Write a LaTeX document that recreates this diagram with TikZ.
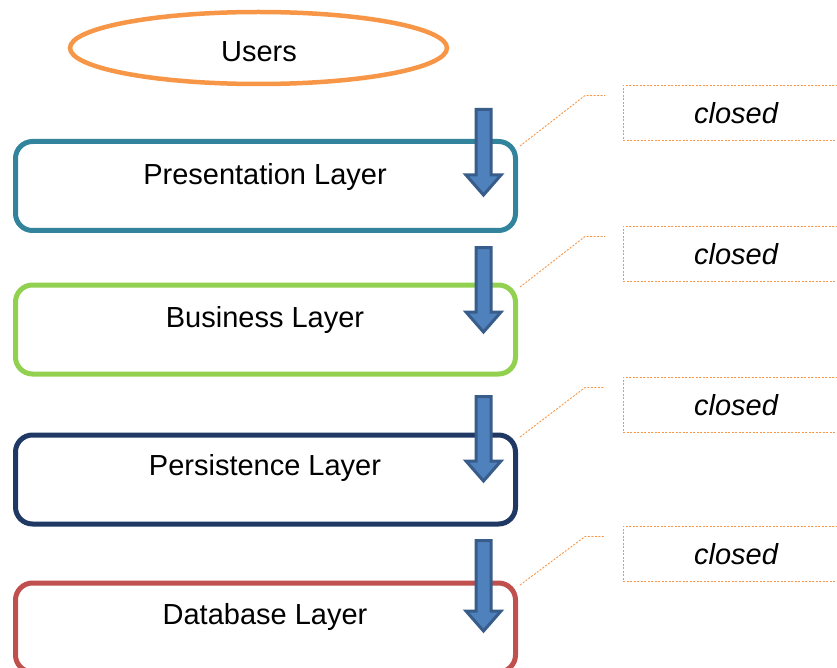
\documentclass[tikz,border=0pt]{standalone}
\usepackage{fontspec}
\setmainfont{Liberation Sans}
\usetikzlibrary{shapes.geometric}
\definecolor{usersorange}{HTML}{F79646}
\definecolor{presteal}{HTML}{31849B}
\definecolor{busgreen}{HTML}{92D050}
\definecolor{persnavy}{HTML}{1F3864}
\definecolor{dbred}{HTML}{C0504D}
\definecolor{arrowfill}{HTML}{4F81BD}
\definecolor{arrowedge}{HTML}{385D8A}
\tikzset{
  layerbox/.style={draw, rounded corners=17pt, line width=5pt, minimum width=500pt,
    minimum height=89pt, inner sep=0pt, fill=white},
  layertext/.style={font=\fontsize{29}{34}\selectfont, inner sep=0pt},
  notebox/.style={draw=usersorange, dashed, dash pattern=on 2pt off 1.5pt, line width=0.9pt,
    minimum width=260pt, minimum height=55pt, anchor=north west, inner sep=0pt},
  notetext/.style={font=\fontsize{29}{34}\selectfont\itshape, inner sep=0pt},
  noteline/.style={draw=usersorange, dash pattern=on 2pt off 1.5pt, line width=0.9pt},
  flowarrow/.style={fill=arrowfill, draw=arrowedge, line width=3pt, line join=miter},
}
\begin{document}
\begin{tikzpicture}[x=1pt,y=-1pt]
  \useasboundingbox (0,0) rectangle (837,668);
  \clip (0,0) rectangle (837,668);

  % users
  \node[ellipse, draw=usersorange, line width=4.5pt, minimum width=377pt, minimum height=72pt,
        inner sep=0pt] (users) at (258.5,48) {};
  \node[layertext] (userstxt) at (259,52) {Users};

  % layers
  \node[layerbox, draw=presteal] (pres) at (265.5,186) {};
  \node[layertext] (prestxt) at (265,177) {Presentation Layer};
  \node[layerbox, draw=busgreen] (bus) at (265.5,329.5) {};
  \node[layertext] (bustxt) at (265,320) {Business Layer};
  \node[layerbox, draw=persnavy] (pers) at (265.5,479.5) {};
  \node[layertext] (perstxt) at (265,468) {Persistence Layer};
  \node[layerbox, draw=dbred] (db) at (265.5,627.5) {};
  \node[layertext] (dbtxt) at (265,617) {Database Layer};

  % downward block arrows
  \foreach \t/\b in {109.5/195, 247.5/332, 396.5/481, 540.5/631} {
    \draw[flowarrow] (476,\t) -- (491,\t) -- (491,\b-20) -- (501,\b-20) -- (483.5,\b)
      -- (466,\b-20) -- (476,\b-20) -- cycle;
  }

  % "closed" notes
  \foreach \n/\y/\ly in {1/85/146, 2/226/287, 3/377/437, 4/526/585} {
    \node[notebox] (note\n) at (623,\y) {};
    \node[notetext] (notetxt\n) at (736,\y+28) {closed};
    \coordinate (lead\n) at (605,\y+10.5);
    \draw[noteline] (520,\ly) -- (585,\y+10.5) -- (lead\n);
  }
\end{tikzpicture}
\end{document}
